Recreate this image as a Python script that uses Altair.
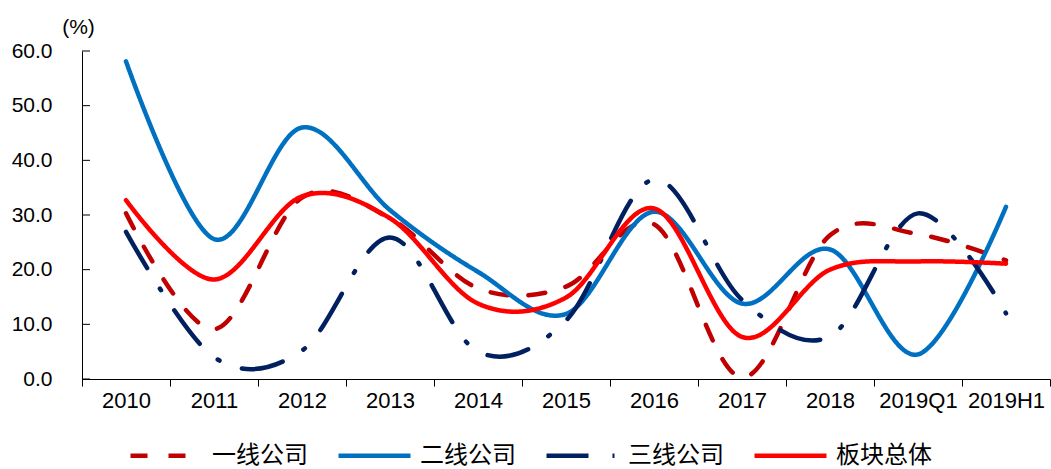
import altair as alt
import pandas as pd

categories = ["2010", "2011", "2012", "2013", "2014", "2015", "2016", "2017", "2018", "2019Q1", "2019H1"]
series_names = ["一线公司", "二线公司", "三线公司", "板块总体"]

tier1 = [30.3, 9.1, 33.2, 29.4, 16.6, 16.9, 28.3, 0.3, 26.3, 26.5, 21.7]
tier2 = [58.1, 25.6, 46.0, 30.9, 19.6, 11.9, 30.6, 13.8, 23.7, 4.5, 31.5]
tier3 = [26.9, 4.0, 5.2, 25.9, 5.0, 10.7, 36.5, 14.5, 7.8, 30.3, 12.0]
total = [32.7, 18.2, 33.4, 29.4, 13.8, 14.9, 31.2, 7.7, 20.0, 21.5, 21.1]

y_ticks = [0, 10, 20, 30, 40, 50, 60]

colors = ["#C00000", "#0070C0", "#002060", "#FF0000"]
dashes = [[17, 21], [1, 0], [42, 24, 2, 24], [1, 0]]

rows = []
for name, vals in zip(series_names, [tier1, tier2, tier3, total]):
    for c, v in zip(categories, vals):
        rows.append({"year": c, "series": name, "value": v})
df = pd.DataFrame(rows)
tick_df = pd.DataFrame({"v": y_ticks})

LAT = "Liberation Sans, Arial, sans-serif"
CJK = "Noto Sans CJK SC, sans-serif"

x_enc = alt.X(
    "year:N",
    sort=categories,
    bandPosition=0.5,
    scale=alt.Scale(type="band", paddingInner=0, paddingOuter=0),
    axis=alt.Axis(
        title=None,
        tickBand="extent",
        tickSize=7,
        tickColor="#000000",
        domainColor="#000000",
        labelFont=LAT,
        labelFontSize=22,
        labelColor="#000000",
        labelPadding=4,
        labelAngle=0,
        grid=False,
    ),
)
y_enc = alt.Y(
    "value:Q",
    scale=alt.Scale(domain=[0, 60], nice=False, zero=True),
    axis=alt.Axis(
        title="(%)",
        titleAngle=0,
        titleX=-4,
        titleY=-24,
        titleAlign="center",
        titleBaseline="middle",
        titleFont=LAT,
        titleFontSize=21,
        titleFontWeight="normal",
        titleColor="#000000",
        values=y_ticks,
        format=".1f",
        ticks=False,
        domainColor="#000000",
        labelFont=LAT,
        labelFontSize=21,
        labelColor="#000000",
        labelPadding=30,
        grid=False,
    ),
)


def make_legend():
    return alt.Legend(
        title=None,
        orient="none",
        legendX=46,
        legendY=366,
        direction="horizontal",
        columns=4,
        columnPadding=21,
        symbolType="stroke",
        symbolSize=5184,
        symbolStrokeWidth=4.5,
        labelOffset=7,
        labelFont=CJK,
        labelFontSize=24,
        labelColor="#000000",
        labelLimit=200,
    )


color_enc = alt.Color(
    "series:N",
    sort=series_names,
    scale=alt.Scale(domain=series_names, range=colors),
    legend=make_legend(),
)
dash_enc = alt.StrokeDash(
    "series:N",
    sort=series_names,
    scale=alt.Scale(domain=series_names, range=dashes),
    legend=make_legend(),
)

tick_layer = alt.Chart(tick_df).mark_rule(color="#000000", strokeWidth=1).encode(
    y=alt.Y("v:Q"),
    x=alt.value(0),
    x2=alt.value(8),
)

base = alt.Chart(df).encode(x=x_enc, y=y_enc, color=color_enc, strokeDash=dash_enc)
line_layers = [
    base.transform_filter(alt.datum.series == s).mark_line(
        interpolate="cardinal", strokeWidth=4.5, strokeCap="round"
    )
    for s in series_names
]

chart = (
    alt.layer(*line_layers, tick_layer)
    .properties(
        width=968,
        height=328,
        autosize=alt.AutoSizeParams(type="none"),
        padding={"left": 82, "top": 51, "right": 1, "bottom": 90},
        background="#FFFFFF",
    )
    .configure_view(stroke=None)
)

chart.save("out.html", embed_options={"renderer": "svg", "actions": False})
